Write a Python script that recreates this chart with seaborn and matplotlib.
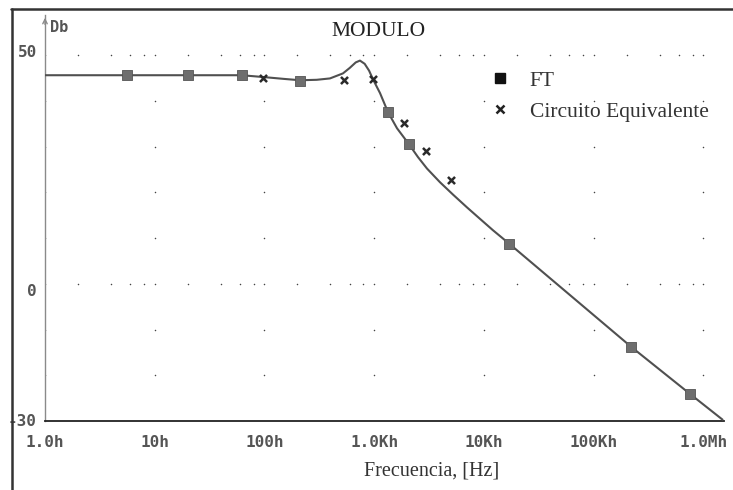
import numpy as np
import pandas as pd
import matplotlib
matplotlib.use("Agg")
import matplotlib.pyplot as plt
import seaborn as sns
from matplotlib.lines import Line2D

# ---------------- data ----------------
curve_freq = [1.0, 5.6, 20, 62, 98, 150, 212, 300, 396, 520, 600, 680, 743, 820, 900,
              977, 1132, 1340, 1618, 2081, 2512, 3034, 3987, 5240, 7030, 9230,
              12130, 16980, 221000, 760000, 1.5e6]
curve_db = [45.6, 45.6, 45.6, 45.6, 45.2, 44.8, 44.5, 44.6, 44.9, 46.0, 47.2, 48.4, 48.8,
            48.1, 46.6, 44.7, 41.7, 37.5, 34.0, 30.5, 27.7, 25.2, 22.2, 19.5, 16.7,
            14.2, 11.7, 8.8, -13.8, -24.1, -29.7]

ft_freq = [5.6, 20, 62, 212, 1340, 2081, 16980, 221000, 760000]
ft_db = [45.6, 45.6, 45.7, 44.4, 37.5, 30.5, 8.8, -13.8, -24.1]

eq_freq = [98, 535, 977, 1874, 2972, 5024]
eq_db = [45.0, 44.5, 44.8, 35.1, 29.0, 22.8]

x_ticks = [1, 10, 100, 1e3, 1e4, 1e5, 1e6]
x_tick_labels = ["1.0h", "10h", "100h", "1.0Kh", "10Kh", "100Kh", "1.0Mh"]
y_ticks = [50, 0, -30]
y_tick_labels = ["50", "0", "-30"]
grid_rows = [50, 40, 30, 20, 10, 0, -10, -20]
minor_rows = [50, 0]

series_names = ["FT", "Circuito Equivalente"]
title = "MODULO"
x_label = "Frecuencia, [Hz]"
y_label = "Db"

# ---------------- figure ----------------
sns.set_theme(style="white")
plt.rcParams["font.family"] = ["DejaVu Sans"]

W, H = 733, 490
fig = plt.figure(figsize=(W / 100, H / 100), dpi=100)
fig.patch.set_facecolor("white")

def px(x, y):
    return x / W, 1 - y / H

ax = fig.add_axes([45 / W, (H - 421) / H, (724 - 45) / W, (421 - 15) / H])
ax.set_facecolor("white")
ax.set_xscale("log")
ax.set_xlim(1, 10 ** ((724 - 45) / 109.7))
ax.set_ylim(-30, 50 + (55 - 15) / 4.5625)

# grid dots
gx, gy = [], []
for r in grid_rows:
    for t in x_ticks:
        gx.append(t); gy.append(r)
for r in minor_rows:
    for t in x_ticks:
        for m in (2, 4, 6, 8):
            if t * m <= ax.get_xlim()[1]:
                gx.append(t * m); gy.append(r)
ax.scatter(gx, gy, s=1.2, color="#444444", linewidths=0, zorder=1)

curve = pd.DataFrame({"f": curve_freq, "db": curve_db})
ft = pd.DataFrame({"f": ft_freq, "db": ft_db})
eq = pd.DataFrame({"f": eq_freq, "db": eq_db})

sns.lineplot(data=curve, x="f", y="db", ax=ax, color="#505050", linewidth=1.5,
             sort=False, zorder=3)
sns.scatterplot(data=ft, x="f", y="db", ax=ax, marker="s", s=55, color="#6e6e6e",
                edgecolor="#555555", linewidth=0.6, zorder=4)
sns.scatterplot(data=eq, x="f", y="db", ax=ax, marker="x", s=26, color="#2a2a2a",
                linewidth=1.8, zorder=4)

# axes styling
for s in ("top", "right"):
    ax.spines[s].set_visible(False)
ax.spines["left"].set_color("#8a8a8a")
ax.spines["left"].set_linewidth(1.0)
ax.spines["bottom"].set_color("#222222")
ax.spines["bottom"].set_linewidth(1.3)

ax.set_xticks(x_ticks)
ax.set_xticklabels(x_tick_labels)
ax.xaxis.set_minor_locator(matplotlib.ticker.NullLocator())
ax.tick_params(axis="x", direction="inout", length=8, width=1.0, color="#222222",
               pad=6, labelsize=11.5, labelcolor="#555555")
for lab in ax.get_xticklabels():
    lab.set_fontfamily("DejaVu Sans Mono")
    lab.set_fontweight("bold")

ax.set_yticks(y_ticks)
ax.set_yticklabels([])
ax.tick_params(axis="y", direction="inout", length=8, width=1.0, color="#222222")
ax.set_xlabel("")
ax.set_ylabel("")

# y tick labels placed like the original
y_offsets = {50: -3, 0: 8, -30: 0}
for v, lab in zip(y_ticks, y_tick_labels):
    ax.annotate(lab, xy=(0, v), xycoords=("axes fraction", "data"),
                xytext=(-6, -y_offsets[v] * 0.72), textcoords="offset points",
                ha="right", va="center", fontsize=11.5, fontweight="bold",
                family="DejaVu Sans Mono", color="#555555")

# arrow on top of y axis
ax.annotate("", xy=(0, 1.0), xycoords="axes fraction", xytext=(0, 0.97),
            arrowprops=dict(arrowstyle="->", color="#8a8a8a", lw=1.0,
                            mutation_scale=8))

# texts
fig.text(*px(378, 31), title, ha="center", va="center", fontsize=15.5,
         family="Liberation Serif", color="#222222")
fig.text(*px(50, 28), y_label, ha="left", va="center", fontsize=11,
         family="DejaVu Sans Mono", fontweight="bold", color="#555555")
fig.text(*px(432, 471), x_label, ha="center", va="center", fontsize=14.5,
         family="Liberation Serif", color="#333333")

# legend
handles = [Line2D([], [], linestyle="none", marker="s", markersize=7,
                  color="#111111"),
           Line2D([], [], linestyle="none", marker="x", markersize=5.5,
                  markeredgewidth=1.8, color="#222222")]
leg = ax.legend(handles, series_names, loc="upper left",
                bbox_to_anchor=px(476, 60), bbox_transform=fig.transFigure,
                frameon=False, handlelength=1.2, handletextpad=0.8,
                labelspacing=0.5, borderpad=0,
                prop={"family": "Liberation Serif", "size": 15.5})
for t in leg.get_texts():
    t.set_color("#333333")

# outer frame (top and left borders of the scanned picture)
fig.add_artist(Line2D([11 / W, 1], [1 - 9 / H, 1 - 9 / H], transform=fig.transFigure,
                      color="#333333", lw=1.8))
fig.add_artist(Line2D([12 / W, 12 / W], [1 - 9 / H, 0], transform=fig.transFigure,
                      color="#333333", lw=1.8))

fig.savefig("out.png", dpi=100, facecolor="white")
